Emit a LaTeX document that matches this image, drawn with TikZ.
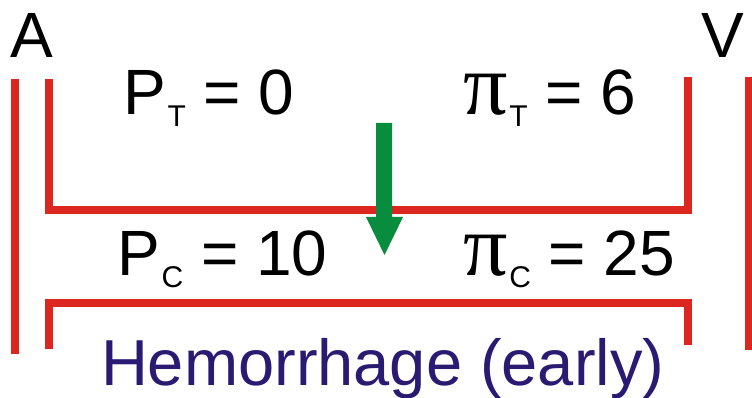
\documentclass[tikz,border=0pt]{standalone}
\usepackage{fontspec}
\setmainfont{Liberation Sans}
\newfontfamily\pifont{Liberation Serif}
\definecolor{vred}{RGB}{220,38,32}
\definecolor{arrgreen}{RGB}{8,140,62}
\definecolor{navy}{RGB}{42,26,114}
\newcommand{\bigtxt}{\fontsize{64}{64}\selectfont}
\newcommand{\subtxt}[1]{\hspace{2pt}\raisebox{-12pt}{\fontsize{30}{30}\selectfont #1}}
\newcommand{\pisym}{{\pifont\fontsize{88}{88}\selectfont π}}
\begin{document}
\begin{tikzpicture}[x=1pt,y=-1pt,
  vessel/.style={draw=vred,line width=8pt,line cap=butt,line join=miter},
  lbl/.style={anchor=base west,inner sep=0pt,outer sep=0pt,text=black,font=\bigtxt}]
\useasboundingbox (0,0) rectangle (752,398);
% vessel walls
\coordinate (ol1) at (14.5,79); \coordinate (ol2) at (14.5,354);
\coordinate (or1) at (749,77); \coordinate (or2) at (749,350);
\coordinate (t1) at (49,79); \coordinate (t2) at (49,210); \coordinate (t3) at (688,210); \coordinate (t4) at (688,77);
\coordinate (b1) at (49,349); \coordinate (b2) at (49,303); \coordinate (b3) at (688,303); \coordinate (b4) at (688,345);
\draw[vessel] (ol1) -- (ol2);
\draw[vessel] (or1) -- (or2);
\draw[vessel] (t1) -- (t2) -- (t3) -- (t4);
\draw[vessel] (b1) -- (b2) -- (b3) -- (b4);
% labels
\node[lbl] (A) at (10,58) {A};
\node[lbl] (V) at (701,58) {V};
\node[lbl] (PT) at (123,115) {P\subtxt{T} = 0};
\node[lbl] (piT) at (463,115) {\pisym\subtxt{T} = 6};
\node[lbl] (PC) at (117,275) {P\subtxt{C} = 10};
\node[lbl] (piC) at (463,275) {\pisym\subtxt{C} = 25};
\node[lbl,text=navy,font=\fontsize{65}{65}\selectfont] (H) at (101,385) {Hemorrhage (early)};
% green arrow
\fill[arrgreen] (376,123) -- (392,123) -- (392,217) -- (403,217) -- (384.5,255) -- (366,217) -- (376,217) -- cycle;
\end{tikzpicture}
\end{document}
